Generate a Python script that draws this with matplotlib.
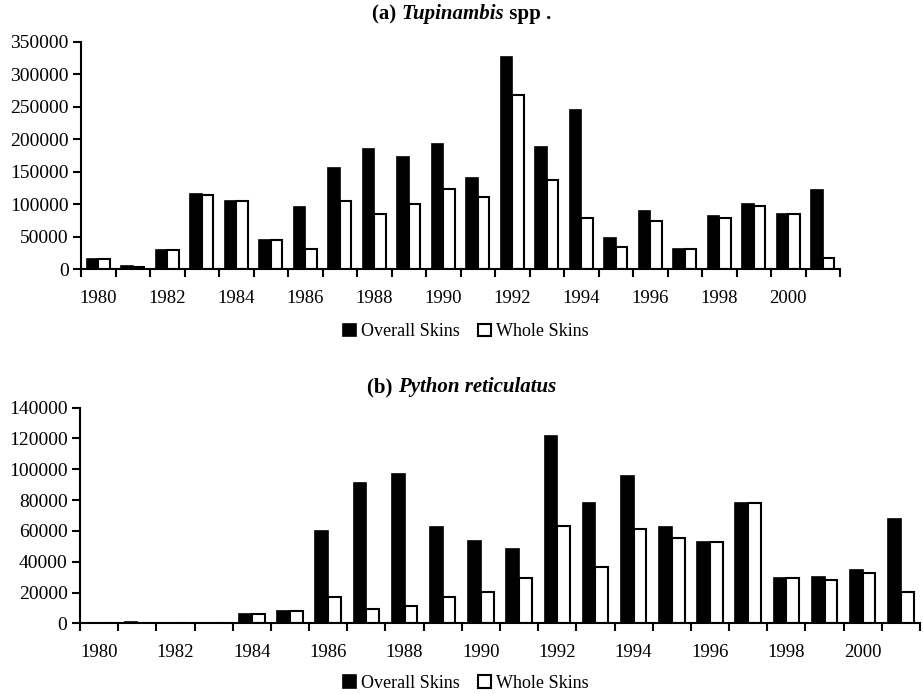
import numpy as np
import matplotlib.pyplot as plt

years = list(range(1980, 2002))

# Tupinambis spp. skins exported
tup_overall = [16000, 4600, 29300, 116000, 105400, 44700, 95100, 155700, 184600, 171700, 192300,
               139400, 326900, 187600, 245200, 47300, 89400, 31400, 81300, 100200, 84300, 121300]
tup_whole = [15000, 2500, 29000, 113600, 105000, 44500, 31400, 105000, 84300, 100200, 123300,
             110100, 268300, 136800, 78200, 33900, 73500, 31400, 78200, 97100, 84300, 17600]

# Python reticulatus skins exported
pyt_overall = [200, 1000, 100, 200, 5800, 8000, 60200, 91300, 96700, 62500, 53700,
               48000, 121400, 78100, 95900, 62500, 52600, 78100, 29200, 30300, 34800, 67900]
pyt_whole = [100, 300, 100, 100, 5800, 8000, 16900, 9100, 11300, 16900, 20100,
             29200, 63400, 36800, 61200, 55600, 52600, 78100, 29200, 28100, 32500, 20100]

plt.rcParams['font.family'] = 'Liberation Serif'

fig = plt.figure(figsize=(9.23, 6.94), dpi=100)


def draw_panel(ax, overall, whole, ymax, ystep):
    x = np.arange(len(years))
    w = 1 / 3
    b1 = ax.bar(x - w / 2, overall, w, color='black', edgecolor='black', linewidth=1.2)
    b2 = ax.bar(x + w / 2, whole, w, color='white', edgecolor='black', linewidth=1.5)
    ax.set_xlim(-0.5, len(years) - 0.5)
    ax.set_ylim(0, ymax)
    ax.set_yticks(np.arange(0, ymax + 1, ystep))
    ax.set_yticklabels([str(v) for v in range(0, ymax + 1, ystep)], fontsize=14)
    # boundary ticks between categories, year labels under even years
    ax.set_xticks(np.arange(-0.5, len(years), 1))
    ax.set_xticklabels([])
    ax.set_xticks(x[::2], minor=True)
    ax.set_xticklabels([str(y) for y in years[::2]], minor=True, fontsize=13.5)
    ax.tick_params(axis='x', which='major', direction='out', length=6, width=1.5)
    ax.tick_params(axis='x', which='minor', length=0, pad=15)
    ax.tick_params(axis='y', length=6, width=1.5, pad=3)
    for s in ['top', 'right']:
        ax.spines[s].set_visible(False)
    for s in ['left', 'bottom']:
        ax.spines[s].set_linewidth(1.5)
    return b1, b2


def title_parts(fig, y, parts, size=15):
    # lay out text segments side by side, centred on the figure
    fig.canvas.draw()
    r = fig.canvas.get_renderer()
    objs = []
    for txt, style in parts:
        t = fig.text(0, y, txt, fontsize=size, fontweight='bold', style=style, va='center')
        objs.append(t)
    widths = [t.get_window_extent(r).width / fig.bbox.width for t in objs]
    x = 0.5 - sum(widths) / 2
    for t, w in zip(objs, widths):
        t.set_x(x)
        x += w


ax1 = fig.add_axes([81 / 923, 425 / 694, 759 / 923, 227.3 / 694])
h1 = draw_panel(ax1, tup_overall, tup_whole, 350000, 50000)
ax2 = fig.add_axes([80 / 923, 70.7 / 694, 840 / 923, 215.6 / 694])
h2 = draw_panel(ax2, pyt_overall, pyt_whole, 140000, 20000)

for handles, ypos in [(h1, 1 - 332 / 694), (h2, 1 - 683 / 694)]:
    fig.legend(handles, ['Overall Skins', 'Whole Skins'], loc='center',
               bbox_to_anchor=(0.505, ypos), ncol=2, frameon=False, fontsize=13,
               handlelength=0.7, handleheight=0.7, handletextpad=0.3, columnspacing=1.0)

title_parts(fig, 1 - 14 / 694, [('(a) ', 'normal'), ('Tupinambis', 'italic'), (' spp .', 'normal')])
title_parts(fig, 1 - 387 / 694, [('(b) ', 'normal'), ('Python reticulatus', 'italic')])

fig.savefig('out.png', dpi=100)
